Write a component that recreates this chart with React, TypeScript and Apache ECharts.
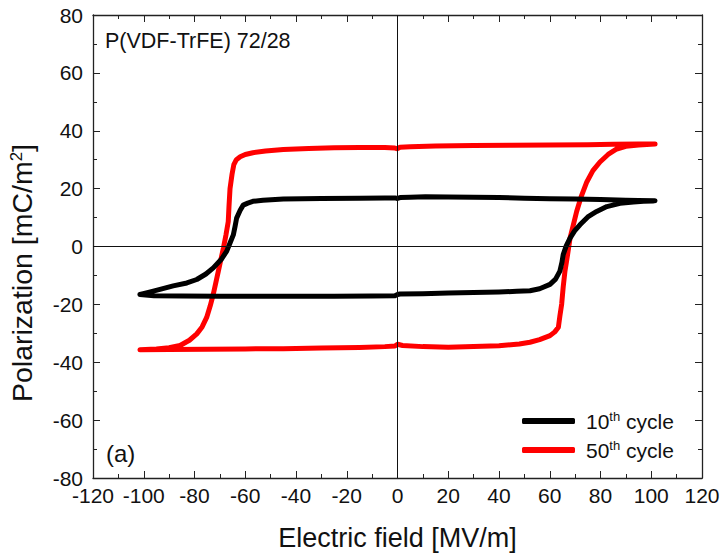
import React, { useEffect, useRef } from "react";
import * as echarts from "echarts";

const xTicks = [-120, 120, 20];
const yTicks = [-80, 80, 20];

// 10th cycle: upper branch (field decreasing) then lower branch (field increasing)
const cycle10Upper: number[][] = [
  [101.5, 15.8], [95, 15.9], [90, 16.0], [80, 16.2], [70, 16.4], [60, 16.5], [50, 16.7],
  [40, 16.9], [30, 17.0], [20, 17.1], [11, 17.2], [5, 17.0], [1, 16.9], [0, 16.6], [-1, 16.8],
  [-5, 16.8], [-15, 16.7], [-30, 16.6], [-45, 16.4], [-53, 16.0], [-57, 15.6], [-59, 15.0],
  [-60.8, 14.3], [-62, 12.5], [-63.4, 9.8], [-64, 7], [-64.7, 4.0], [-66, 1.2], [-67.3, -1.6],
  [-69.5, -4.5], [-72.6, -7.4], [-75.5, -9.5], [-79.1, -11.4], [-83, -12.6], [-88.4, -13.6],
  [-93.6, -14.8], [-97, -15.6], [-100.2, -16.3], [-101.5, -16.6],
];
const cycle10Lower: number[][] = [
  [-101.5, -16.6], [-96, -17.0], [-85, -17.1], [-70, -17.2], [-55, -17.2], [-40, -17.2],
  [-25, -17.2], [-10, -17.1], [-1, -17.0], [0, -16.6], [1, -16.4], [10, -16.3], [20, -16.1],
  [30, -15.9], [40, -15.7], [47, -15.5], [52.2, -15.3], [56, -14.6], [60.1, -13.1],
  [62.3, -11.3], [64, -8.5], [64.8, -5.5], [65.3, -2.8], [66.5, 0.2], [68, 2.9], [69.8, 5.4],
  [71.9, 7.5], [75, 10.2], [78.5, 12.1], [82.5, 13.8], [87.7, 14.9], [93, 15.4], [97, 15.6],
  [100.8, 15.7],
];

// 50th cycle
const cycle50Upper: number[][] = [
  [101.5, 35.4], [95, 35.4], [85, 35.3], [75, 35.2], [60, 35.1], [45, 35.0], [30, 34.9],
  [15, 34.7], [5, 34.5], [1, 34.3], [0, 33.8], [-1, 34.0], [-5, 34.2], [-15, 34.2],
  [-25, 34.1], [-35, 33.9], [-45, 33.5], [-52, 33.0], [-57, 32.4], [-60, 31.8], [-62, 31.0],
  [-63.5, 30.0], [-64.5, 28.3], [-65.2, 25.0], [-66, 20.0], [-66.4, 14.0], [-66.7, 8.6],
  [-67.6, 4.0], [-68.6, -0.5], [-69.6, -4.5], [-70.6, -8.5], [-71.6, -12.5], [-72.6, -16.5],
  [-73.8, -20.5], [-75.2, -24.5], [-77, -27.8], [-79.1, -30.2], [-82, -32.4], [-85.7, -34.2],
  [-90, -35.0], [-95, -35.4], [-101.5, -35.7],
];
const cycle50Lower: number[][] = [
  [-101.5, -35.7], [-90, -35.6], [-75, -35.5], [-60, -35.4], [-45, -35.3], [-30, -35.1],
  [-15, -34.9], [-5, -34.6], [-1, -34.4], [0, -33.8], [2, -34.2], [10, -34.6], [20, -34.8],
  [30, -34.6], [40, -34.3], [48, -33.7], [52.2, -33.1], [56, -32.2], [60.1, -30.8],
  [62, -29.5], [63.4, -27.9], [64, -24.0], [64.7, -19.9], [65.3, -14.0], [66, -8.5],
  [67, -3.0], [68, 2.9], [69.3, 7.5], [70.6, 12.1], [72.5, 17.5], [74.6, 22.3], [77, 26.2],
  [79.8, 29.2], [83, 31.8], [86.4, 33.7], [90, 34.6], [95, 35.1], [101.5, 35.4],
];

const seriesNames = ["10th cycle", "50th cycle"];
const seriesColors = ["#000000", "#ff0000"];
const sampleLabel = "P(VDF-TrFE) 72/28";
const panelLabel = "(a)";
const xName = "Electric field [MV/m]";
const yName = "Polarization [mC/m{sup|2}]";

const FONT = "Liberation Sans, Arial, sans-serif";

export default function App() {
  const ref = useRef<HTMLDivElement>(null);
  useEffect(() => {
    if (!ref.current) return;
    const chart = echarts.init(ref.current, null, { renderer: "svg" });
    const axisCommon = {
      type: "value" as const,
      interval: 20,
      splitLine: { show: false },
      axisLine: { show: true, onZero: false, lineStyle: { color: "#222", width: 1.3 } },
      axisTick: { show: true, inside: true, length: 7, lineStyle: { color: "#222", width: 1 } },
      minorTick: { show: true, splitNumber: 2, length: 4, lineStyle: { color: "#222", width: 1 } },
      minorSplitLine: { show: false },
    };
    const makeLine = (name: string, color: string, data: number[][], extra: any = {}) => ({
      name,
      type: "line",
      data,
      showSymbol: false,
      symbol: "none",
      smooth: false,
      lineStyle: { color, width: 5, cap: "round", join: "round" },
      itemStyle: { color },
      z: name === seriesNames[1] ? 3 : 4,
      ...extra,
    });
    const option: any = {
      animation: false,
      textStyle: { fontFamily: FONT },
      grid: { left: 93, top: 15, right: 22, bottom: 74 },
      xAxis: [
        {
          ...axisCommon,
          min: xTicks[0],
          max: xTicks[1],
          interval: xTicks[2],
          position: "bottom",
          name: xName,
          nameLocation: "middle",
          nameGap: 46,
          nameTextStyle: { fontSize: 27, color: "#111", fontFamily: FONT },
          axisLabel: { fontSize: 21, color: "#111", margin: 10, lineHeight: 14, fontFamily: FONT },
        },
        {
          ...axisCommon,
          min: xTicks[0],
          max: xTicks[1],
          interval: xTicks[2],
          position: "top",
          axisLabel: { show: false },
        },
      ],
      yAxis: [
        {
          ...axisCommon,
          min: yTicks[0],
          max: yTicks[1],
          interval: yTicks[2],
          position: "left",
          axisLabel: { fontSize: 21, color: "#111", margin: 10, lineHeight: 14, fontFamily: FONT },
        },
        {
          ...axisCommon,
          min: yTicks[0],
          max: yTicks[1],
          interval: yTicks[2],
          position: "right",
          axisLabel: { show: false },
        },
      ],
      legend: {
        data: seriesNames,
        orient: "vertical",
        left: 517,
        top: 405,
        itemWidth: 53,
        itemHeight: 6,
        itemGap: 7,
        icon: "roundRect",
        formatter: (n: string) => n.replace("th", "{sup|th}"),
        textStyle: {
          fontSize: 21,
          color: "#111",
          fontFamily: FONT,
          lineHeight: 22,
          padding: [0, 0, 0, 6],
          rich: {
            sup: { fontSize: 13, verticalAlign: "top", lineHeight: 22, color: "#111", fontFamily: FONT, padding: [0, 0, 8, 0] },
          },
        },
      },
      graphic: [
        {
          type: "text",
          left: 105,
          top: 30,
          style: { text: sampleLabel, fontSize: 21.5, fill: "#111", fontFamily: FONT },
        },
        {
          type: "text",
          left: 106,
          top: 441,
          style: { text: panelLabel, fontSize: 24, fill: "#111", fontFamily: FONT },
        },
        {
          type: "text",
          x: 22,
          y: 273,
          rotation: Math.PI / 2,
          style: {
            text: yName,
            fontSize: 28.5,
            fill: "#111",
            fontFamily: FONT,
            align: "center",
            verticalAlign: "middle",
            rich: {
              sup: { fontSize: 17, verticalAlign: "top", lineHeight: 28, fill: "#111", fontFamily: FONT, padding: [0, 0, 10, 0] },
            },
          },
        },
      ],
      series: [
        makeLine(seriesNames[0], seriesColors[0], [...cycle10Upper, ...cycle10Lower], {
          markLine: {
            silent: true,
            symbol: ["none", "none"],
            label: { show: false },
            lineStyle: { color: "#111", type: "solid", width: 1 },
            data: [{ xAxis: 0 }, { yAxis: 0 }],
          },
        }),
        makeLine(seriesNames[1], seriesColors[1], [...cycle50Upper, ...cycle50Lower]),
      ],
    };
    chart.setOption(option);
    return () => chart.dispose();
  }, []);
  return (
    <div
      ref={ref}
      style={{ position: "fixed", left: 0, top: 0, width: 724, height: 556, background: "#fff" }}
    />
  );
}
